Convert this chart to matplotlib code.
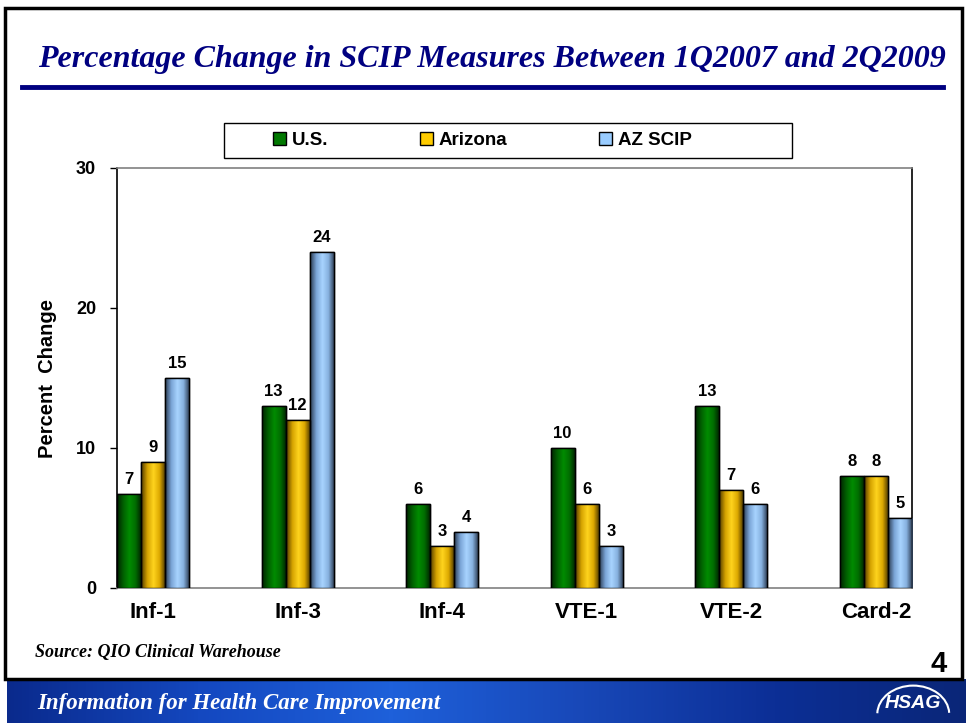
import numpy as np
import matplotlib
matplotlib.use("Agg")
from matplotlib import pyplot as plt
from matplotlib.colors import LinearSegmentedColormap
from matplotlib.patches import Rectangle, Arc

# 数据
categories = ["Inf-1", "Inf-3", "Inf-4", "VTE-1", "VTE-2", "Card-2"]
us = [6.7, 13, 6, 10, 13, 8]
arizona = [9, 12, 3, 6, 7, 8]
az_scip = [15, 24, 4, 3, 6, 5]
series_names = ["U.S.", "Arizona", "AZ SCIP"]
y_ticks = [0, 10, 20, 30]

colors = ["#007800", "#FFCC00", "#99CCFF"]
shades = [["#002400", "#006000", "#008C00", "#006C00", "#001C00"],
          ["#4F3A00", "#D4A200", "#FFD41E", "#DCA800", "#423000"],
          ["#2A3A50", "#7AA4D6", "#A8D4FF", "#86B0DE", "#263448"]]

plt.rcParams['font.family'] = ['Liberation Sans', 'DejaVu Sans']

fig = plt.figure(figsize=(9.66, 7.23), dpi=100)
fig.patch.set_facecolor("white")

# slide border
fig.add_artist(Rectangle((5 / 966, 44 / 723), 957 / 966, 671 / 723,
                         transform=fig.transFigure, fill=False,
                         edgecolor="black", linewidth=2.5))

# 标题
fig.text(0.509, 0.918, "Percentage Change in SCIP Measures Between 1Q2007 and 2Q2009",
         ha="center", va="center", color="#000080", fontsize=23,
         family="Liberation Serif", style="italic", weight="bold")
fig.add_artist(plt.Line2D([22 / 966, 943 / 966], [1 - 87 / 723, 1 - 87 / 723],
                          transform=fig.transFigure, color="#000080", linewidth=3.5))

ax = fig.add_axes([117 / 966, 135 / 723, 795 / 966, 420 / 723])
x = np.arange(len(categories))
w = 0.5 / 3
bars = []
for i, vals in enumerate([us, arizona, az_scip]):
    b = ax.bar(x + (i - 1) * w, vals, w, color=colors[i], edgecolor="black",
               linewidth=1.0, label=series_names[i], zorder=3)
    bars.append(b)
    cmap = LinearSegmentedColormap.from_list("s%d" % i, shades[i])
    grad = np.linspace(0, 1, 64).reshape(1, -1)
    for p in b:
        im = ax.imshow(grad, cmap=cmap, aspect="auto", zorder=3.5,
                       extent=[p.get_x(), p.get_x() + p.get_width(), 0, p.get_height()])
        im.set_clip_path(p)
    ax.bar(x + (i - 1) * w, vals, w, fill=False, edgecolor="black",
           linewidth=1.0, zorder=4)
    ax.bar_label(b, fmt="%.0f", padding=5, fontsize=12, fontweight="bold", zorder=5)

ax.set_xlim(-0.25, 5.25)
ax.set_ylim(0, 30)
ax.set_yticks(y_ticks)
ax.set_yticklabels([str(t) for t in y_ticks], fontsize=13, fontweight="bold")
ax.set_xticks(x)
ax.set_xticklabels(categories, fontsize=16, fontweight="bold")
ax.tick_params(axis="x", length=0, pad=10)
ax.tick_params(axis="y", length=5, width=1, pad=10, direction="out")
ax.spines["top"].set_color("#808080")
ax.spines["bottom"].set_color("#808080")
for s in ax.spines.values():
    s.set_linewidth(1.2)
ax.set_ylabel("Percent  Change", fontsize=14.5, fontweight="bold", labelpad=14)

# 图例
fig.add_artist(Rectangle((224 / 966, 1 - 158 / 723), 568 / 966, 35 / 723,
                         transform=fig.transFigure, facecolor="white",
                         edgecolor="black", linewidth=1.0))
leg = fig.legend(handles=bars, labels=series_names, loc="center left", ncol=3,
                 bbox_to_anchor=(256 / 966, 1 - 140.5 / 723), frameon=False,
                 prop={"weight": "bold", "size": 13.5}, handlelength=0.7,
                 handleheight=0.7, handletextpad=0.3, columnspacing=4.9)

fig.text(35 / 966, 1 - 652 / 723, "Source: QIO Clinical Warehouse", ha="left", va="center",
         fontsize=13, family="Liberation Serif", style="italic", weight="bold")
fig.text(947 / 966, 1 - 664 / 723, "4", ha="right", va="center", fontsize=21,
         fontweight="bold")

# 底部横幅
bax = fig.add_axes([7 / 966, 0, 959 / 966, 44 / 723])
bcmap = LinearSegmentedColormap.from_list(
    "banner", ["#0a2a8c", "#1448c0", "#1e60da", "#1848b8", "#0c2f96", "#0a2678"])
bax.imshow(np.linspace(0, 1, 256).reshape(1, -1), cmap=bcmap, aspect="auto",
           extent=[0, 1, 0, 1])
bax.set_xlim(0, 1)
bax.set_ylim(0, 1)
bax.axis("off")
bax.text(0.031, 0.45, "Information for Health Care Improvement", color="white",
         fontsize=16.5, family="Liberation Serif", style="italic", weight="bold",
         va="center", ha="left")
bax.text(0.945, 0.45, "HSAG", color="white", fontsize=14, style="italic",
         weight="bold", va="center", ha="center")
bax.add_patch(Arc((0.945, 0.2), 0.075, 1.3, theta1=40, theta2=150,
                  color="white", linewidth=1.5))

fig.savefig("out.png", dpi=100)
